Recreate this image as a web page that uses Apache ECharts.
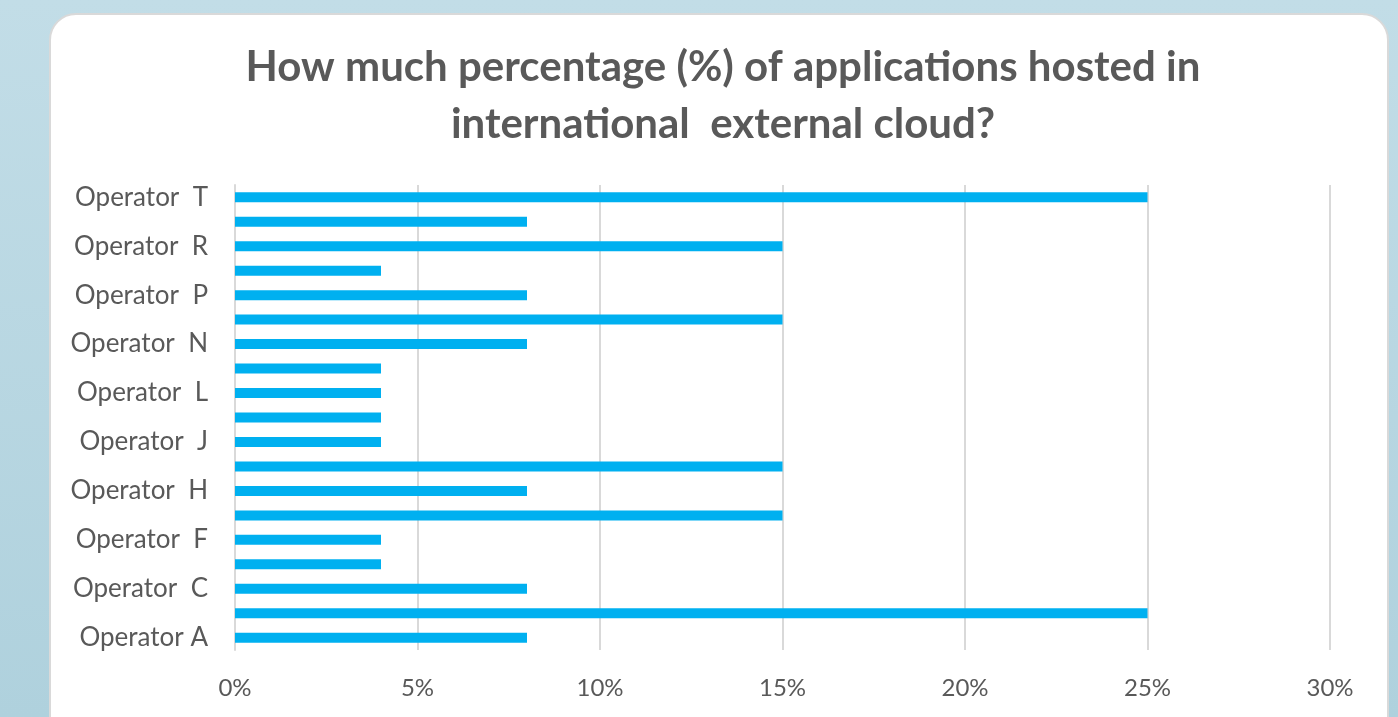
<!DOCTYPE html>
<html><head><meta charset="utf-8">
<script src="https://cdn.jsdelivr.net/npm/echarts@6/dist/echarts.min.js"></script>
<style>
html,body{margin:0;padding:0;width:1398px;height:717px;overflow:hidden;
background:linear-gradient(180deg,#c2dde7 0%,#afd1dd 100%);}
#c{width:1398px;height:717px;}
</style></head><body>
<div id="c"></div>
<script>
const categories = ["Operator A","Operator B","Operator  C","Operator D","Operator  F","Operator G","Operator  H","Operator I","Operator  J","Operator K","Operator  L","Operator M","Operator  N","Operator O","Operator  P","Operator Q","Operator  R","Operator S","Operator  T"];
const values = [8,25,8,4,4,15,8,15,4,4,4,4,8,15,8,4,15,8,25];
const xTicks = [0,5,10,15,20,25,30];
const titleText = "How much percentage (%) of applications hosted in\ninternational  external cloud?";

const chart = echarts.init(document.getElementById('c'), null, {renderer:'canvas'});
chart.setOption({
  animation:false,
  graphic:[{
    type:'rect', z:-10, silent:true,
    shape:{x:50,y:14,width:1338,height:740,r:26},
    style:{fill:'#ffffff',stroke:'#d9d9d9',lineWidth:2}
  }],
  title:{
    text:titleText, left:718, top:34, textAlign:'center',
    textStyle:{fontFamily:'Lato',fontWeight:'bold',fontSize:42,color:'#595959',lineHeight:57}
  },
  grid:{left:235,right:68,top:185,bottom:67,containLabel:false},
  xAxis:{
    type:'value', min:xTicks[0], max:xTicks[xTicks.length-1], interval:5,
    axisLine:{show:false}, axisTick:{show:false},
    splitLine:{lineStyle:{color:'#d9d9d9',width:2}},
    axisLabel:{formatter:v=>v+'%',fontFamily:'Lato',fontSize:24,color:'#595959',margin:26}
  },
  yAxis:{
    type:'category', data:categories,
    axisLine:{show:true,lineStyle:{color:'#d9d9d9',width:2}},
    axisTick:{show:false},
    axisLabel:{interval:1,fontFamily:'Lato',fontSize:26,color:'#595959',margin:27}
  },
  series:[{
    type:'bar', data:values, barWidth:10,
    itemStyle:{color:'#00b0f0'}
  }]
});
</script>
</body></html>
